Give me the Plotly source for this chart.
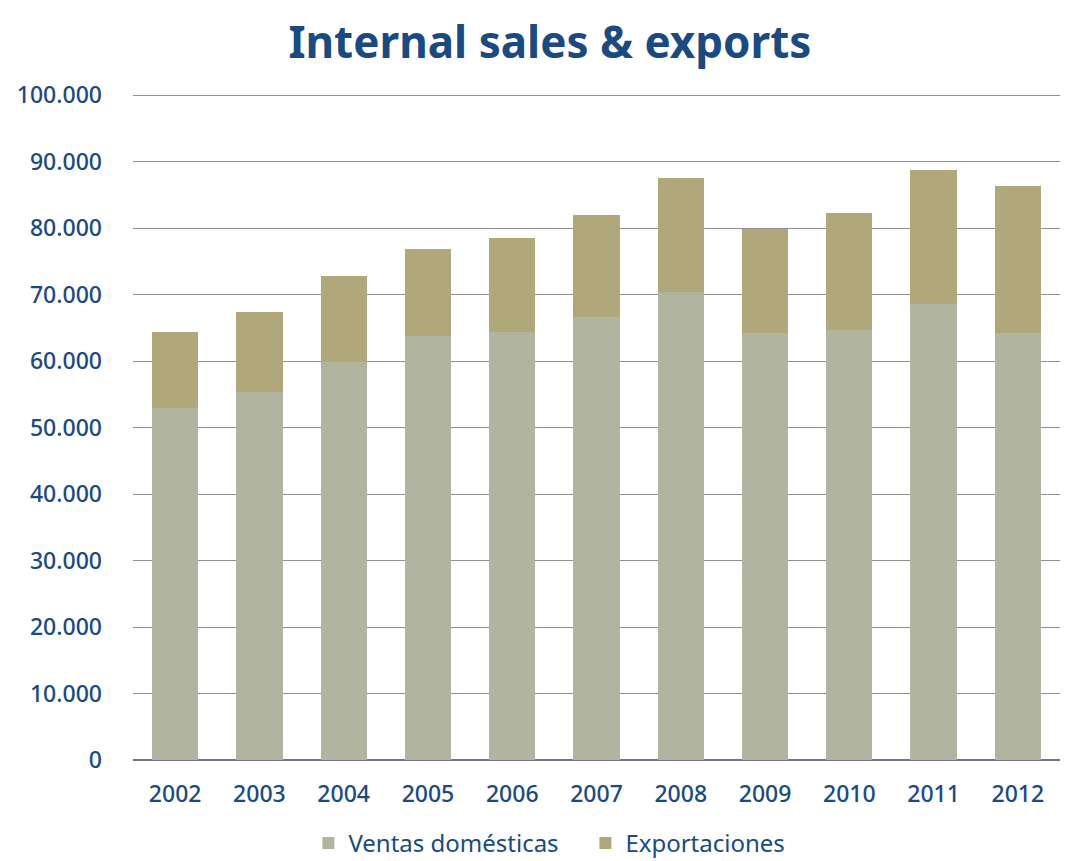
import plotly.graph_objects as go

years = ["2002", "2003", "2004", "2005", "2006", "2007", "2008", "2009", "2010", "2011", "2012"]
ventas_domesticas = [52900, 55400, 59900, 63800, 64400, 66600, 70400, 64200, 64700, 68500, 64200]
exportaciones = [11500, 11900, 12900, 13100, 14100, 15400, 17100, 15700, 17500, 20200, 22100]
y_ticks = [0, 10000, 20000, 30000, 40000, 50000, 60000, 70000, 80000, 90000, 100000]
y_tick_labels = ["0", "10.000", "20.000", "30.000", "40.000", "50.000",
                 "60.000", "70.000", "80.000", "90.000", "100.000"]

TEXT = "#1A4A80"
FONT = "Noto Sans"

fig = go.Figure()
fig.add_trace(go.Bar(x=years, y=ventas_domesticas, name="Ventas domésticas",
                     marker=dict(color="#B1B59F", line=dict(width=0))))
fig.add_trace(go.Bar(x=years, y=exportaciones, name="Exportaciones",
                     marker=dict(color="#B0A77A", line=dict(width=0))))

fig.update_layout(
    width=1072, height=861,
    barmode="stack", bargap=0.45,
    paper_bgcolor="white", plot_bgcolor="white",
    margin=dict(l=133, r=12, t=93, b=101, autoexpand=False),
    title=dict(text="Internal sales &amp; exports", x=0.513, xref="container", xanchor="center",
               y=0.951, yref="container", yanchor="middle",
               font=dict(family=FONT, size=44, color=TEXT, weight="bold")),
    font=dict(family=FONT, color=TEXT),
    legend=dict(orientation="h", x=0.488, xanchor="center", y=-0.125, yanchor="middle",
                font=dict(size=24, color=TEXT), traceorder="normal",
                itemwidth=30, entrywidth=232, entrywidthmode="pixels"),
    showlegend=True,
)
fig.update_yaxes(range=[0, 100300], tickvals=y_ticks, ticktext=y_tick_labels,
                 showgrid=True, gridcolor="#8E9096", gridwidth=1,
                 zeroline=True, zerolinecolor="#6E7685", zerolinewidth=1.5,
                 ticklabelstandoff=30, automargin=False,
                 tickfont=dict(family=FONT, size=23, color=TEXT, weight=500))
fig.update_xaxes(showgrid=False, showline=False, ticks="",
                 ticklabelstandoff=18, automargin=False,
                 tickfont=dict(family=FONT, size=23, color=TEXT, weight=500))

fig.write_html("out.html")
